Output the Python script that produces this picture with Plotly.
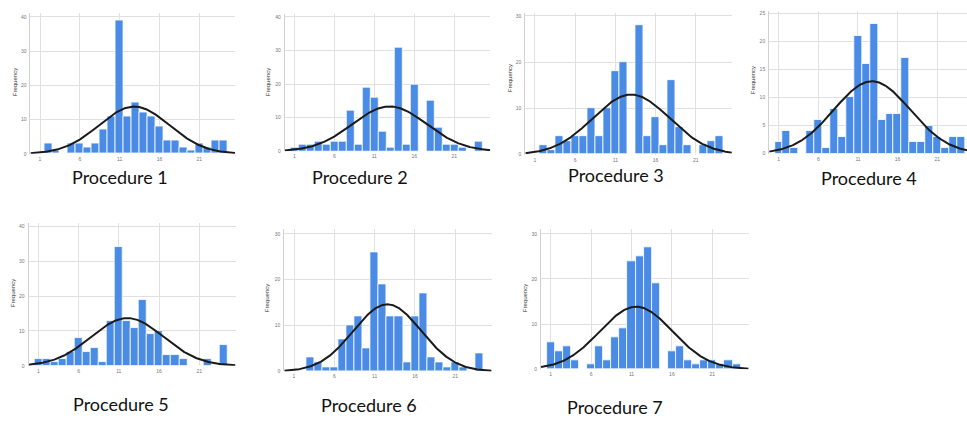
import numpy as np
import plotly.graph_objects as go

W, H = 967, 421

# score values (bin centres) and frequency counts per procedure
scores = list(range(1, 25))

counts_p1 = [0, 3, 1, 0, 3, 3, 2, 3, 7, 11, 39, 11, 15, 12, 11, 8, 4, 4, 2, 1, 3, 2, 4, 4]
counts_p2 = [1, 2, 2, 3, 2, 3, 3, 12, 2, 19, 16, 6, 1, 31, 2, 20, 0, 15, 7, 2, 2, 1, 0, 3]
counts_p3 = [0, 2, 1, 4, 3, 4, 4, 10, 4, 10, 18, 20, 0, 28, 4, 8, 2, 16, 6, 2, 0, 2, 3, 4]
counts_p4 = [2, 4, 1, 0, 4, 6, 1, 8, 3, 10, 21, 16, 23, 6, 7, 7, 17, 2, 2, 5, 3, 1, 3, 3]
counts_p5 = [2, 2, 1, 2, 4, 8, 4, 5, 1, 13, 34, 13, 11, 19, 9, 10, 3, 3, 2, 0, 0, 2, 0, 6]
counts_p6 = [0, 0, 3, 2, 1, 1, 7, 10, 12, 5, 26, 19, 12, 12, 2, 12, 17, 3, 2, 1, 2, 1, 0, 4]
counts_p7 = [6, 4, 5, 2, 0, 1, 5, 2, 7, 9, 24, 25, 27, 19, 0, 4, 5, 2, 1, 2, 2, 1, 2, 1]

titles = ["Procedure 1", "Procedure 2", "Procedure 3", "Procedure 4",
          "Procedure 5", "Procedure 6", "Procedure 7"]
x_ticks = [1, 6, 11, 16, 21]
y_ticks_40 = [0, 10, 20, 30, 40]
y_ticks_30 = [0, 10, 20, 30]
y_ticks_25 = [0, 5, 10, 15, 20, 25]

all_counts = [counts_p1, counts_p2, counts_p3, counts_p4, counts_p5, counts_p6, counts_p7]
all_yticks = [y_ticks_40, y_ticks_40, y_ticks_30, y_ticks_25, y_ticks_40, y_ticks_30, y_ticks_30]

# panel geometry in pixels: x of tick "1", x of tick "21", y of zero line,
# pixels per frequency unit, top of y range, right end of x range
panels = [
    dict(a=40.0, b=199.3, y0=154.3, ppu=3.457, ymax=41.0, xmax=25.5),
    dict(a=294.3, b=454.3, y0=151.7, ppu=3.39, ymax=41.0, xmax=25.5),
    dict(a=535.0, b=695.7, y0=155.0, ppu=4.667, ymax=30.6, xmax=25.5),
    dict(a=778.7, b=937.3, y0=154.0, ppu=5.67, ymax=25.4, xmax=24.75),
    dict(a=38.3, b=199.3, y0=368.3, ppu=3.517, ymax=41.0, xmax=25.5),
    dict(a=294.0, b=455.3, y0=374.0, ppu=4.63, ymax=31.0, xmax=25.5),
    dict(a=550.7, b=712.3, y0=371.7, ppu=4.557, ymax=31.0, xmax=25.5),
]
XMIN = -0.2

title_pos = [(120, 178), (360, 178), (616, 176), (869, 179),
             (121, 407), (369, 408), (615, 410)]
freq_pos = [(15, 82), (268, 82), (510, 78), (753, 80),
            (13, 295), (267, 300), (525, 300)]

BAR = "#4a8be6"
GRID = "#e0e0e0"
TICKFONT = dict(family="Liberation Sans", size=5, color="#777777")

fig = go.Figure()
annotations = []

for i, (counts, yt, p) in enumerate(zip(all_counts, all_yticks, panels)):
    n = i + 1
    xa = "x" if n == 1 else f"x{n}"
    ya = "y" if n == 1 else f"y{n}"
    unit = (p["b"] - p["a"]) / 20.0
    left = p["a"] - (1 - XMIN) * unit
    right = p["a"] + (p["xmax"] - 1) * unit
    top = p["y0"] - p["ymax"] * p["ppu"]

    fig.add_trace(go.Bar(
        x=scores, y=counts, width=1.0,
        marker=dict(color=BAR, line=dict(color="white", width=0.8)),
        xaxis=xa, yaxis=ya, showlegend=False, hoverinfo="x+y",
    ))

    # fitted normal curve from the histogram's own mean and SD
    c = np.array(counts, dtype=float)
    v = np.array(scores, dtype=float)
    N = c.sum()
    mu = (c * v).sum() / N
    sd = np.sqrt((c * (v - mu) ** 2).sum() / (N - 1))
    xs = np.linspace(XMIN, p["xmax"], 300)
    ys = N / (sd * np.sqrt(2 * np.pi)) * np.exp(-0.5 * ((xs - mu) / sd) ** 2)
    fig.add_trace(go.Scatter(
        x=xs, y=ys, mode="lines", line=dict(color="#1a1a1a", width=2),
        xaxis=xa, yaxis=ya, showlegend=False, hoverinfo="skip",
    ))

    xkey = "xaxis" if n == 1 else f"xaxis{n}"
    ykey = "yaxis" if n == 1 else f"yaxis{n}"
    fig.update_layout({
        xkey: dict(
            domain=[max(left, 0) / W, min(right, W) / W],
            range=[XMIN, p["xmax"]], anchor=ya,
            tickmode="array", tickvals=x_ticks, ticktext=[str(t) for t in x_ticks],
            showgrid=True, gridcolor=GRID, gridwidth=1,
            zeroline=False, showline=False, ticks="",
            tickfont=TICKFONT, ticklabelstandoff=1,
        ),
        ykey: dict(
            domain=[1 - p["y0"] / H, 1 - top / H],
            range=[0, p["ymax"]], anchor=xa,
            tickmode="array", tickvals=yt, ticktext=[str(t) for t in yt],
            showgrid=True, gridcolor=GRID, gridwidth=1,
            zeroline=False, showline=True, linecolor="#d0d0d0", linewidth=1,
            ticks="", tickfont=TICKFONT, ticklabelstandoff=2,
        ),
    })

    tx, ty = title_pos[i]
    annotations.append(dict(
        x=tx / W, y=1 - ty / H, xref="paper", yref="paper",
        text=titles[i], showarrow=False, xanchor="center", yanchor="middle",
        font=dict(family="Lato", size=18, color="#111111"),
    ))
    fx, fy = freq_pos[i]
    annotations.append(dict(
        x=fx / W, y=1 - fy / H, xref="paper", yref="paper",
        text="Frequency", showarrow=False, textangle=-90,
        xanchor="center", yanchor="middle",
        font=dict(family="Liberation Sans", size=6, color="#333333"),
    ))

fig.update_layout(
    width=W, height=H,
    margin=dict(l=0, r=0, t=0, b=0),
    paper_bgcolor="white", plot_bgcolor="white",
    bargap=0, annotations=annotations,
)

fig.write_html("out.html")
